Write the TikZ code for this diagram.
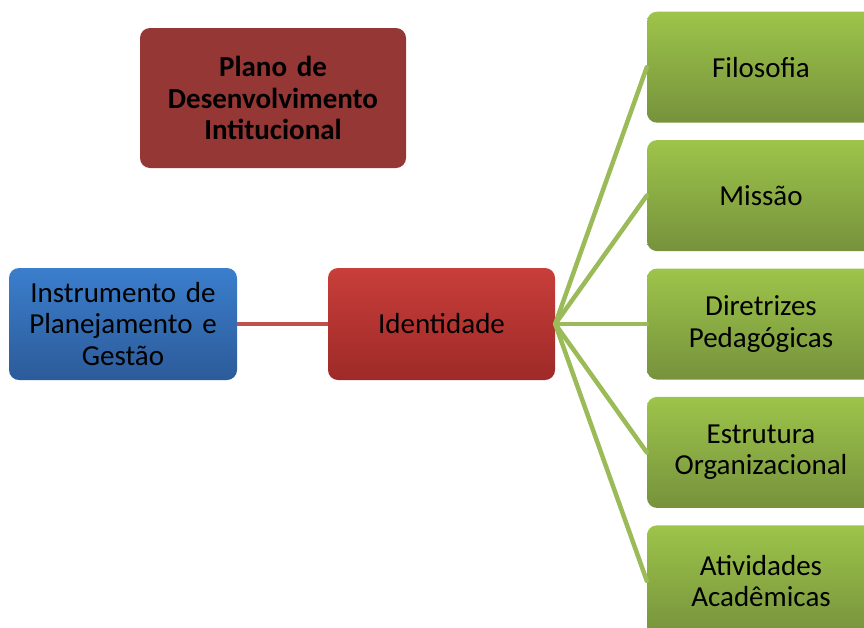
\documentclass[tikz,border=0pt]{standalone}
\usepackage{fontspec}
\setmainfont{Carlito}
\usepackage{xcolor}
\usetikzlibrary{positioning}
\definecolor{pdiRed}{HTML}{953735}
\definecolor{blueTop}{HTML}{3B7ECC}
\definecolor{blueBot}{HTML}{2C5B9A}
\definecolor{redTop}{HTML}{C83E3A}
\definecolor{redBot}{HTML}{9E2A28}
\definecolor{greenTop}{HTML}{9DC44A}
\definecolor{greenBot}{HTML}{76923C}
\definecolor{greenLine}{HTML}{9BBB59}
\definecolor{redLine}{HTML}{C0504D}

\begin{document}
\begin{tikzpicture}[
  x=1pt,y=-1pt,
  node distance=17pt,
  box/.style={rectangle,rounded corners=10pt,minimum height=112pt,minimum width=228pt,text width=220pt,inner sep=0pt,align=center,font=\fontsize{29}{31.5}\selectfont},
  topic/.style={box,minimum height=111pt,top color=greenTop,bottom color=greenBot},
  link/.style={line width=4.5pt,greenLine}
]
\clip (0,0) rectangle (864,627);
\fill[white] (0,0) rectangle (864,627);
% title box, top left
\node[box,fill=pdiRed,minimum width=266pt,minimum height=140pt,text width=256pt,font=\bfseries\fontsize{29}{31.5}\selectfont] (plano) at (273,98) {Plano de\\Desenvolvimento\\Intitucional};
% middle row
\node[box,top color=blueTop,bottom color=blueBot] (instr) at (123,324) {Instrumento de\\Planejamento e\\Gestão};
\node[box,minimum width=227pt,top color=redTop,bottom color=redBot] (ident) at (441.5,324) {Identidade};
% right column
\node[topic] (dir) at (761,324) {Diretrizes\\Pedagógicas};
\node[topic,above=of dir] (missao) {Missão};
\node[topic,above=of missao] (filo) {Filosofia};
\node[topic,below=of dir] (estr) {Estrutura\\Organizacional};
\node[topic,below=of estr] (ativ) {Atividades\\Acadêmicas};

% connectors
\draw[line width=4.5pt,redLine] (instr) -- (ident);
\foreach \t in {filo,missao,dir,estr,ativ}
  \draw[link,line cap=round] (ident.east) -- (\t.west);
\end{tikzpicture}
\end{document}
